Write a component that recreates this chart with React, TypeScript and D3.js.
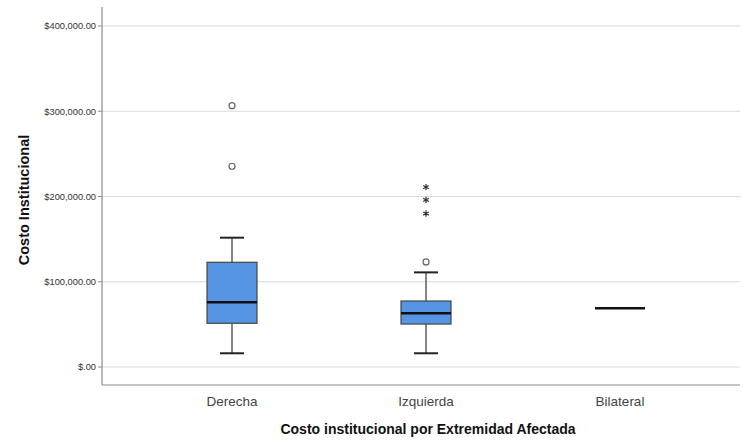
import React from "react";
import * as d3 from "d3";

// Box-plot summaries per limb group (values in pesos)
const categories = ["Derecha", "Izquierda", "Bilateral"];
const q1 = [51300, 50400, 68900];
const medians = [75900, 63000, 68900];
const q3 = [122800, 77400, 68900];
const whiskerLow = [16100, 16100, 68900];
const whiskerHigh = [151700, 111000, 68900];
// Mild outliers (circles) and extreme outliers (stars)
const mildOutliers = [[306500, 235500], [123200], []];
const extremeOutliers = [[], [211000, 196000, 180000], []];
const yTicks = [0, 100000, 200000, 300000, 400000];

const W = 743;
const H = 442;
const plot = { left: 102, right: 740, top: 7, bottom: 385 };

export default function App() {
  const y = d3.scaleLinear().domain([0, 400000]).range([367, 26]);
  const x = d3.scalePoint<string>().domain(categories).range([232, 620]);
  const fmt = (v: number) =>
    v === 0 ? "$.00" : "$" + d3.format(",.2f")(v);
  const boxW = 50;
  const capW = 24;
  const font = "Arial, 'Liberation Sans', sans-serif";
  const star = d3.symbol(d3.symbolAsterisk, 28)();

  return (
    <svg
      width={W}
      height={H}
      style={{ position: "fixed", left: 0, top: 0, background: "#fff" }}
      fontFamily={font}
    >
      {/* gridlines */}
      {yTicks.map((t) => (
        <line
          key={"g" + t}
          x1={plot.left}
          x2={plot.right}
          y1={y(t)}
          y2={y(t)}
          stroke="#d9d9d9"
          strokeWidth={1}
        />
      ))}
      {/* axes */}
      <line x1={plot.left} x2={plot.left} y1={plot.top} y2={plot.bottom} stroke="#8c8c8c" strokeWidth={1.2} />
      <line x1={plot.left} x2={plot.right} y1={plot.bottom} y2={plot.bottom} stroke="#8c8c8c" strokeWidth={1.2} />
      {yTicks.map((t) => (
        <g key={"t" + t}>
          <line x1={plot.left - 4} x2={plot.left} y1={y(t)} y2={y(t)} stroke="#8c8c8c" />
          <text
            x={plot.left - 6}
            y={y(t)}
            dy="0.35em"
            textAnchor="end"
            fontSize={9.3}
            fill="#333"
          >
            {fmt(t)}
          </text>
        </g>
      ))}
      {/* boxes */}
      {categories.map((c, i) => {
        const cx = x(c)!;
        const flat = q1[i] === q3[i];
        return (
          <g key={c}>
            {!flat && (
              <>
                <line x1={cx} x2={cx} y1={y(whiskerHigh[i])} y2={y(q3[i])} stroke="#444" strokeWidth={1.3} />
                <line x1={cx} x2={cx} y1={y(q1[i])} y2={y(whiskerLow[i])} stroke="#444" strokeWidth={1.3} />
                <line x1={cx - capW / 2} x2={cx + capW / 2} y1={y(whiskerHigh[i])} y2={y(whiskerHigh[i])} stroke="#222" strokeWidth={2} />
                <line x1={cx - capW / 2} x2={cx + capW / 2} y1={y(whiskerLow[i])} y2={y(whiskerLow[i])} stroke="#222" strokeWidth={2} />
                <rect
                  x={cx - boxW / 2}
                  y={y(q3[i])}
                  width={boxW}
                  height={y(q1[i]) - y(q3[i])}
                  fill="#5595e3"
                  stroke="#444"
                  strokeWidth={1.2}
                />
              </>
            )}
            <line
              x1={cx - boxW / 2}
              x2={cx + boxW / 2}
              y1={y(medians[i])}
              y2={y(medians[i])}
              stroke="#111"
              strokeWidth={2.4}
            />
            {mildOutliers[i].map((v, j) => (
              <circle key={"o" + j} cx={cx} cy={y(v)} r={3} fill="none" stroke="#666" strokeWidth={1.2} />
            ))}
            {extremeOutliers[i].map((v, j) => (
              <path
                key={"s" + j}
                d={star!}
                transform={`translate(${cx},${y(v)})`}
                fill="none"
                stroke="#333"
                strokeWidth={1.2}
              />
            ))}
          </g>
        );
      })}
      {/* category labels */}
      {categories.map((c) => (
        <text key={"l" + c} x={x(c)!} y={406} textAnchor="middle" fontSize={13.5} fill="#444">
          {c}
        </text>
      ))}
      <text x={428} y={434} textAnchor="middle" fontSize={14} fontWeight="bold" fill="#111">
        Costo institucional por Extremidad Afectada
      </text>
      <text
        transform={`translate(29, 200) rotate(-90)`}
        textAnchor="middle"
        fontSize={14.5}
        fontWeight="bold"
        fill="#111"
      >
        Costo Institucional
      </text>
    </svg>
  );
}
